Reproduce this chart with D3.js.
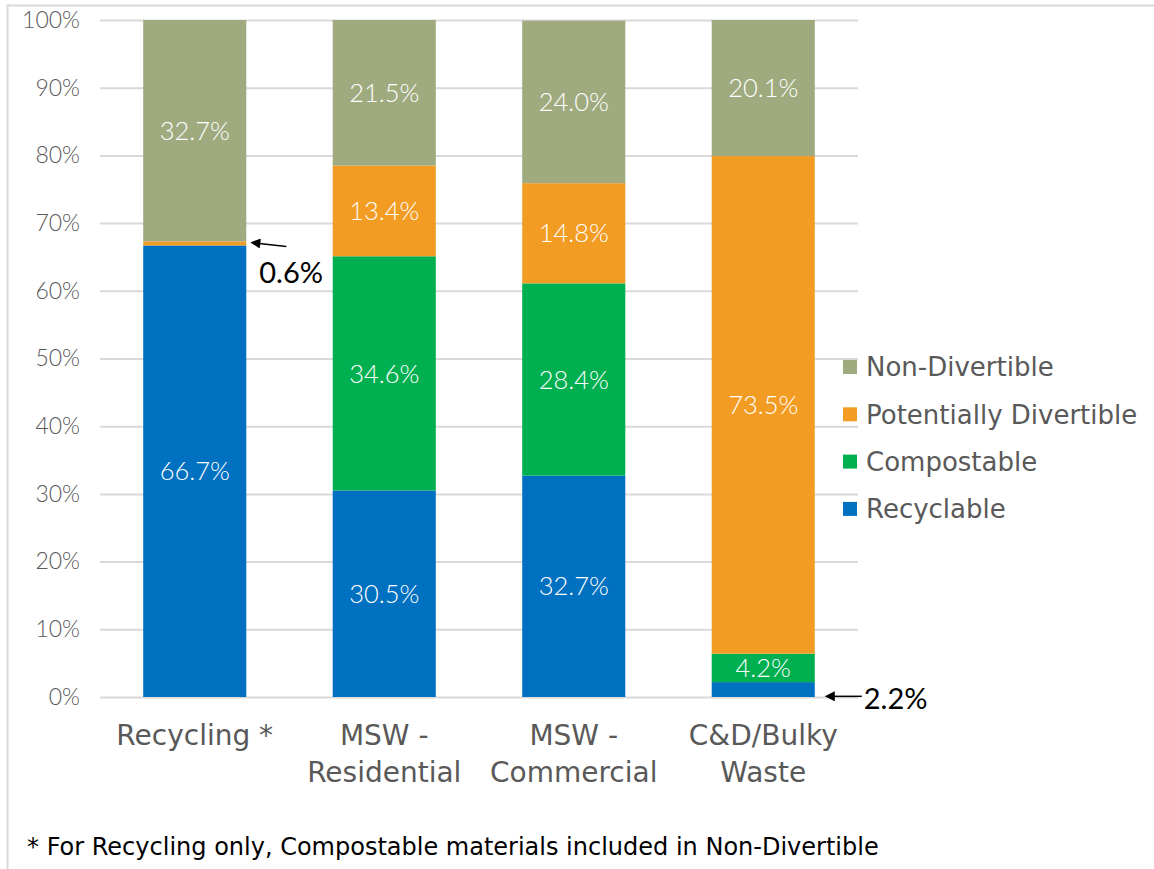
<!DOCTYPE html>
<html>
<head>
<meta charset="utf-8">
<script src="https://cdn.jsdelivr.net/npm/d3@7/dist/d3.min.js"></script>
<style>
  html, body { margin: 0; padding: 0; background: #fff; }
  svg { display: block; font-family: "DejaVu Sans", sans-serif; }
  .num { font-family: Lato, "Open Sans", sans-serif; }
</style>
</head>
<body>
<svg id="chart" width="1154" height="869"></svg>
<script>
// Waste composition by stream (percent of total)
const categories = ["Recycling *", "MSW - Residential", "MSW - Commercial", "C&D/Bulky Waste"];
const categoryLines = [["Recycling *"], ["MSW -", "Residential"], ["MSW -", "Commercial"], ["C&D/Bulky", "Waste"]];
const seriesNames = ["Recyclable", "Compostable", "Potentially Divertible", "Non-Divertible"];
const recyclable = [66.7, 30.5, 32.7, 2.2];
const compostable = [0, 34.6, 28.4, 4.2];
const potentiallyDivertible = [0.6, 13.4, 14.8, 73.5];
const nonDivertible = [32.7, 21.5, 24.0, 20.1];
const yTicks = [0, 10, 20, 30, 40, 50, 60, 70, 80, 90, 100];
const footnote = "* For Recycling only, Compostable materials included in Non-Divertible";

const colors = {
  "Recyclable": "#0070c0",
  "Compostable": "#00b050",
  "Potentially Divertible": "#f39c23",
  "Non-Divertible": "#9faa7f"
};

const rows = categories.map((c, i) => ({
  category: c,
  "Recyclable": recyclable[i],
  "Compostable": compostable[i],
  "Potentially Divertible": potentiallyDivertible[i],
  "Non-Divertible": nonDivertible[i]
}));

const svg = d3.select("#chart");
const plot = { left: 100, right: 858, top: 20, bottom: 697 };

// outer frame
svg.append("path")
  .attr("d", "M7.5,869 V5.5 H1154")
  .attr("fill", "none").attr("stroke", "#d9d9d9").attr("stroke-width", 2);

const x = d3.scaleBand().domain(categories).range([plot.left, plot.right]).paddingInner(0.456).paddingOuter(0.228);
const y = d3.scaleLinear().domain([0, 100]).range([plot.bottom, plot.top]);

// gridlines
svg.append("g")
  .attr("transform", `translate(${plot.left},0)`)
  .call(d3.axisLeft(y).tickValues(yTicks).tickSize(-(plot.right - plot.left)).tickFormat(""))
  .call(g => g.select(".domain").remove())
  .call(g => g.selectAll("line").attr("stroke", "#d9d9d9").attr("stroke-width", 2));

// y tick labels
svg.append("g")
  .attr("transform", `translate(${plot.left},0)`)
  .call(d3.axisLeft(y).tickValues(yTicks).tickSize(0).tickPadding(20).tickFormat(d => d + "%"))
  .call(g => g.select(".domain").remove())
  .call(g => g.selectAll("text").attr("class", "num").attr("fill", "#595959")
    .style("font-size", "23px").style("font-weight", 300));

// stacked bars
const stack = d3.stack().keys(seriesNames)(rows);
const layers = svg.append("g").selectAll("g").data(stack).join("g")
  .attr("fill", d => colors[d.key]);
layers.selectAll("rect").data(d => d.map(s => ({ s, key: d.key }))).join("rect")
  .attr("x", d => x(d.s.data.category))
  .attr("width", x.bandwidth())
  .attr("y", d => y(d.s[1]))
  .attr("height", d => y(d.s[0]) - y(d.s[1]));

// value labels inside segments large enough to hold them
const labelData = [];
stack.forEach(layer => layer.forEach(s => {
  const v = s.data[layer.key];
  if (v >= 4) labelData.push({ cat: s.data.category, v, mid: (s[0] + s[1]) / 2 });
}));
svg.append("g").selectAll("text").data(labelData).join("text")
  .attr("class", "num")
  .attr("x", d => x(d.cat) + x.bandwidth() / 2)
  .attr("y", d => y(d.mid))
  .attr("dy", "0.36em")
  .attr("text-anchor", "middle")
  .attr("fill", "#fff")
  .style("font-size", "25.5px")
  .style("font-weight", 300)
  .text(d => d.v.toFixed(1) + "%");

// category labels
const catG = svg.append("g").selectAll("text").data(categories).join("text")
  .attr("x", d => x(d) + x.bandwidth() / 2)
  .attr("y", 745)
  .attr("text-anchor", "middle")
  .attr("fill", "#595959")
  .style("font-size", "28px");
catG.each(function(d, i) {
  d3.select(this).selectAll("tspan").data(categoryLines[i]).join("tspan")
    .attr("x", x(d) + x.bandwidth() / 2)
    .attr("dy", (t, j) => j === 0 ? 0 : 37)
    .text(t => t);
});

// legend
const legendItems = seriesNames.slice().reverse();
const lg = svg.append("g").attr("transform", "translate(843,367)");
const li = lg.selectAll("g").data(legendItems).join("g")
  .attr("transform", (d, i) => `translate(0,${i * 47.3})`);
li.append("rect").attr("x", 0).attr("y", -7).attr("width", 14).attr("height", 14).attr("fill", d => colors[d]);
li.append("text").attr("x", 23).attr("dy", "0.36em").attr("fill", "#595959").style("font-size", "26px").text(d => d);

// callouts for the thin segments
svg.append("defs").append("marker")
  .attr("id", "arrow").attr("viewBox", "0 0 10 10").attr("refX", 1).attr("refY", 5)
  .attr("markerWidth", 12).attr("markerHeight", 10).attr("markerUnits", "userSpaceOnUse")
  .attr("orient", "auto-start-reverse")
  .append("path").attr("d", "M0,0 L10,5 L0,10 Z").attr("fill", "#000");

const callouts = [
  { cat: "Recycling *", at: recyclable[0] + potentiallyDivertible[0] / 2, value: potentiallyDivertible[0], dx0: 3, dx1: 40, dy1: 3, tx: 13, ty: 29 },
  { cat: "C&D/Bulky Waste", at: recyclable[3] / 2 - 1, value: recyclable[3], dx0: 9, dx1: 47, dy1: 0, tx: 49, ty: 2 }
];
callouts.forEach(c => {
  const xr = x(c.cat) + x.bandwidth();
  const yy = y(c.at);
  svg.append("line")
    .attr("x1", xr + c.dx1).attr("y1", yy + c.dy1)
    .attr("x2", xr + c.dx0 + 10).attr("y2", yy)
    .attr("stroke", "#000").attr("stroke-width", 1.5)
    .attr("marker-end", "url(#arrow)");
  svg.append("text")
    .attr("class", "num")
    .attr("x", xr + c.tx).attr("y", yy + c.ty)
    .attr("dy", "0.36em")
    .attr("fill", "#000")
    .style("font-size", "29px")
    .style("font-weight", 400)
    .text(c.value.toFixed(1) + "%");
});

// footnote
svg.append("text")
  .attr("x", 27).attr("y", 855)
  .attr("fill", "#000").style("font-size", "24px")
  .text(footnote);
</script>
</body>
</html>
